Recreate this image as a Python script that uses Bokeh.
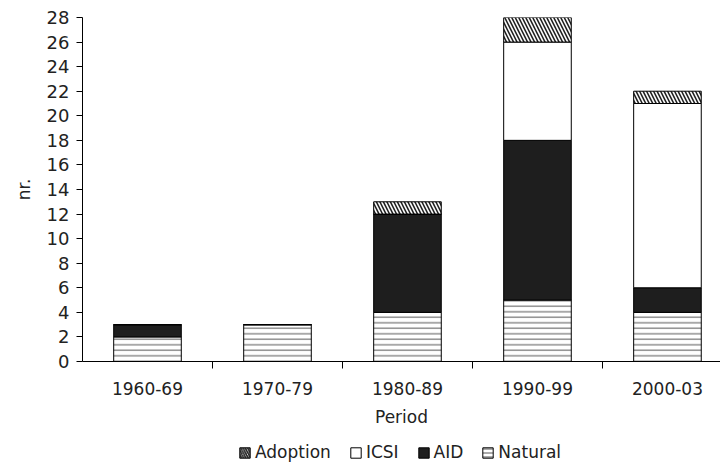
from bokeh.plotting import figure
from bokeh.models import Range1d, FixedTicker, Legend, LegendItem, ColumnDataSource
from bokeh.layouts import column
from bokeh.embed import file_html
from bokeh.resources import INLINE

periods = ["1960-69", "1970-79", "1980-89", "1990-99", "2000-03"]
natural = [2, 3, 4, 5, 4]
aid = [1, 0, 8, 13, 2]
icsi = [0, 0, 0, 8, 15]
adoption = [0, 0, 1, 2, 1]
y_ticks = list(range(0, 29, 2))

x = list(range(len(periods)))
data = dict(x=x, Natural=natural, AID=aid, ICSI=icsi, Adoption=adoption)

FONT = "DejaVu Sans"
TXT = "#222222"

stackers = ["Natural", "AID", "ICSI", "Adoption"]
styles = dict(
    fill_color=["white", "#1e1e1e", "white", "white"],
    hatch_pattern=["-", " ", " ", "\\"],
    hatch_color=["#555555", "#444444", "#444444", "#222222"],
    hatch_scale=[5.5, 6, 6, 7],
    hatch_weight=[1.0, 1.0, 1.0, 1.6],
)

p = figure(width=720, height=431, output_backend="svg", toolbar_location=None,
           x_range=Range1d(-0.5, 4.408), y_range=Range1d(0, 28),
           min_border_left=82, min_border_top=17, min_border_right=0,
           min_border_bottom=70)
p.outline_line_color = None
p.xgrid.visible = False
p.ygrid.visible = False

rs = p.vbar_stack(stackers, x="x", width=0.52, source=data,
                  line_color="black", line_width=1, **styles)

# axes
xa = p.xaxis[0]
xa.ticker = FixedTicker(ticks=x, minor_ticks=[0.5, 1.5, 2.5, 3.5])
xa.major_label_overrides = {i: lab for i, lab in enumerate(periods)}
xa.major_tick_line_color = None
xa.major_tick_in = 0
xa.major_tick_out = 0
xa.minor_tick_in = 0
xa.minor_tick_out = 7
xa.minor_tick_line_color = "black"
xa.axis_line_color = "black"
xa.major_label_text_font = FONT
xa.major_label_text_font_size = "17px"
xa.major_label_text_color = TXT
xa.major_label_standoff = 13
xa.axis_label = "Period"
xa.axis_label_text_font = FONT
xa.axis_label_text_font_size = "17px"
xa.axis_label_text_font_style = "normal"
xa.axis_label_text_color = TXT
xa.axis_label_standoff = 9

ya = p.yaxis[0]
ya.ticker = FixedTicker(ticks=y_ticks, minor_ticks=[])
ya.major_tick_in = 0
ya.major_tick_out = 6
ya.major_tick_line_color = "black"
ya.axis_line_color = "black"
ya.major_label_text_font = FONT
ya.major_label_text_font_size = "18px"
ya.major_label_text_color = TXT
ya.major_label_standoff = 7
ya.axis_label = "nr."
ya.axis_label_text_font = FONT
ya.axis_label_text_font_size = "17px"
ya.axis_label_text_font_style = "normal"
ya.axis_label_text_color = TXT
ya.axis_label_standoff = 10

# legend in a small strip below the chart
q = figure(width=720, height=33, output_backend="svg", toolbar_location=None,
           x_range=Range1d(0, 1), y_range=Range1d(0, 1),
           x_axis_type=None, y_axis_type=None,
           min_border_left=82, min_border_right=0, min_border_top=0, min_border_bottom=0)
q.outline_line_color = None
q.xgrid.visible = False
q.ygrid.visible = False
dummy = ColumnDataSource(data=dict(x=[0.5], top=[-10.0], bottom=[-11.0]))
lr = {}
for i, name in enumerate(stackers):
    lr[name] = q.vbar(x="x", top="top", bottom="bottom", width=0.1, source=dummy,
                      line_color="black", line_width=1,
                      fill_color=styles["fill_color"][i],
                      hatch_pattern=styles["hatch_pattern"][i],
                      hatch_color=styles["hatch_color"][i],
                      hatch_scale=4 if name == "Natural" else 4.5 if name == "Adoption" else 6,
                      hatch_weight=styles["hatch_weight"][i])

order = ["Adoption", "ICSI", "AID", "Natural"]
items = [LegendItem(label=name, renderers=[lr[name]]) for name in order]
legend = Legend(items=items, orientation="horizontal", location=(156, 2),
                border_line_color=None, background_fill_alpha=0,
                label_text_font=FONT, label_text_font_size="17px",
                label_text_color=TXT,
                glyph_width=13, glyph_height=13, spacing=18,
                label_standoff=4, padding=2, margin=0)
q.add_layout(legend, "center")

layout = column(p, q, spacing=0)
open("out.html", "w").write(file_html(layout, INLINE))
